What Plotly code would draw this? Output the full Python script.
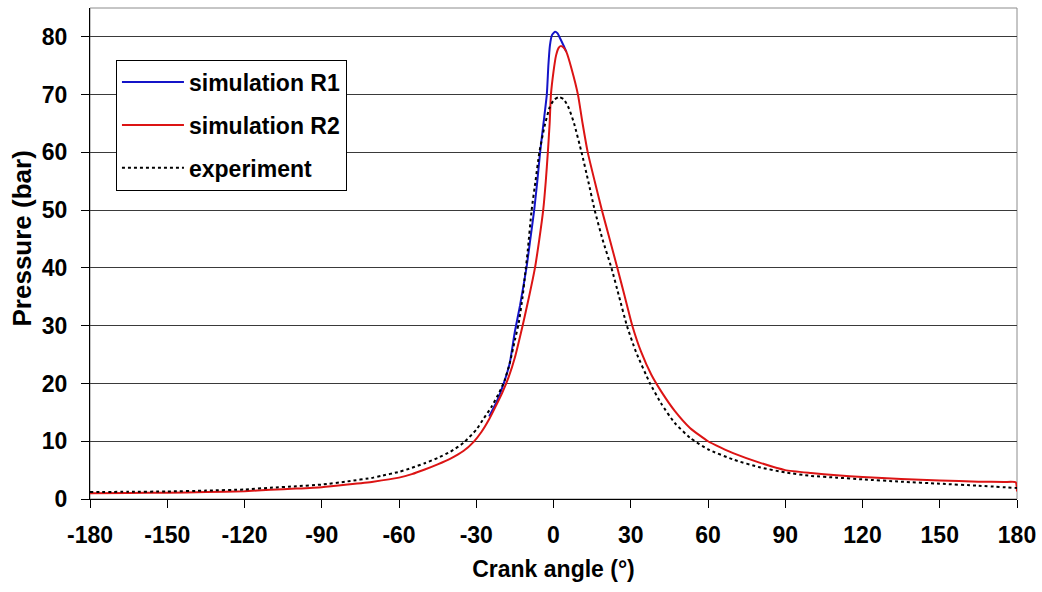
import plotly.graph_objects as go

# ---- data ----
exp_angle = [-180, -165, -150, -135, -120, -110, -100, -90, -80, -70, -67, -60, -55, -50, -45, -40, -35,
             -30, -27, -24, -21, -19, -17, -15, -13.5, -12, -11, -10, -8.5, -7, -5.5, -3.5, -1.5,
             0, 2, 4, 6, 8, 10.9, 13.5, 16, 19, 22.5, 25.5, 28.5, 32, 37.5, 42, 47, 53, 60, 70, 80, 90,
             100, 110, 120, 135, 150, 165, 180]
exp_pressure = [1.2, 1.25, 1.3, 1.45, 1.65, 1.95, 2.2, 2.5, 3.05, 3.7, 4.0, 4.7, 5.4, 6.2, 7.1, 8.2, 9.7,
                12.0, 14.0, 16.0, 18.5, 20.5, 23.5, 27.5, 30.5, 35, 39, 43, 50, 55, 60, 64.5, 67.8,
                69, 69.6, 69.2, 67.6, 65, 60, 55, 50, 45, 40, 35, 30, 25.5, 20, 16.4, 13.2, 10.6, 8.6,
                6.8, 5.5, 4.6, 4.0, 3.7, 3.4, 3.0, 2.65, 2.3, 1.9]

r2_angle = [-180, -165, -150, -135, -120, -110, -100, -90, -80, -70, -60, -55, -50, -45, -40, -35, -31,
            -28, -25, -22.5, -20, -17.5, -15, -12, -9.5, -7.2, -5.5, -4, -3, -2.2, -1.5, -1, 0, 1, 2,
            2.8, 4, 5, 7, 9.5, 11.3, 13.3, 16, 18.8, 21.8, 24.8, 27.7, 30.6, 34, 38, 42, 47, 53, 60,
            65, 70, 80, 90, 100, 110, 120, 135, 150, 165, 175, 179.5, 180]
r2_pressure = [1.0, 1.05, 1.1, 1.2, 1.35, 1.6, 1.8, 2.05, 2.5, 3.0, 3.7, 4.3, 5.1, 6.0, 7.0, 8.3, 9.9,
               11.6, 13.8, 16, 18.3, 21, 24.5, 30, 35, 40, 45, 50, 55, 60, 65, 70, 74, 76.8, 78.1,
               78.4, 78.1, 77.4, 74.5, 70, 65, 60, 55, 50, 45, 40, 35, 30, 25.5, 21.5, 18.5, 15.3,
               12.3, 10.0, 8.9, 7.9, 6.3, 5.0, 4.5, 4.1, 3.8, 3.45, 3.2, 3.0, 2.95, 2.9, 1.3]

r1_angle = [-25, -22, -19.5, -17, -15, -13, -10.5, -9, -7.5, -6.3, -5.2, -3.9, -2.6, -2.0, -1.4, -0.6,
            0.6, 1.6, 2.5, 3.8, 5]
r1_pressure = [14.3, 16.9, 19.8, 23.5, 29, 33.5, 40, 45, 50, 55, 60, 65, 70, 75, 78.5, 80.3,
               80.9, 80.6, 79.8, 78.6, 77.4]

x_ticks = [-180, -150, -120, -90, -60, -30, 0, 30, 60, 90, 120, 150, 180]
y_ticks = [0, 10, 20, 30, 40, 50, 60, 70, 80]

FONT = "Liberation Sans, Arial, sans-serif"

fig = go.Figure()
fig.add_trace(go.Scatter(x=r1_angle, y=r1_pressure, mode="lines", name="simulation R1",
                         line=dict(color="#1414c8", width=2, shape="spline", smoothing=0.5),
                         legendgroup="a"))
fig.add_trace(go.Scatter(x=r2_angle, y=r2_pressure, mode="lines", name="simulation R2",
                         line=dict(color="#dc1414", width=2, shape="spline", smoothing=0.5),
                         legendgroup="b"))
fig.add_trace(go.Scatter(x=exp_angle, y=exp_pressure, mode="lines", name="experiment",
                         line=dict(color="black", width=2, dash="dot", shape="spline", smoothing=0.5),
                         legendgroup="c"))

# Plot area at x 90..1017, y 8..499 of the 1042x592 window (body margin removed below).
fig.update_layout(
    width=1042, height=592,
    margin=dict(l=90, r=25, t=8, b=93, autoexpand=False),
    paper_bgcolor="white", plot_bgcolor="white",
    font=dict(family=FONT, size=22, color="black", weight="bold"),
    showlegend=True,
    legend=dict(x=0.028, y=0.895, xanchor="left", yanchor="top",
                bgcolor="white", bordercolor="black", borderwidth=1,
                font=dict(family=FONT, size=23, color="black", weight="bold"),
                tracegroupgap=10, traceorder="grouped", itemwidth=62),
    xaxis=dict(range=[-180, 180], tickvals=x_ticks, ticktext=[str(v) for v in x_ticks],
               showgrid=False, zeroline=False, showline=True, linecolor="black", linewidth=1,
               ticks="outside", ticklen=8, tickcolor="black", ticklabelstandoff=7, automargin=False,
               tickfont=dict(family=FONT, size=23, color="black", weight="bold"),
               title=dict(text="Crank angle (°)", standoff=14,
                          font=dict(family=FONT, size=23, color="black", weight="bold"))),
    yaxis=dict(range=[0, 85], tickvals=y_ticks, ticktext=[str(v) for v in y_ticks],
               showgrid=True, gridcolor="#3a3a3a", gridwidth=1, zeroline=False,
               showline=True, linecolor="black", linewidth=1, automargin=False,
               ticks="outside", ticklen=8, tickcolor="black", ticklabelstandoff=9,
               tickfont=dict(family=FONT, size=23, color="black", weight="bold")),
    shapes=[dict(type="rect", xref="paper", yref="paper", x0=0, x1=1, y0=0, y1=1,
                 line=dict(color="#8c8c8c", width=1), layer="below")],
    annotations=[dict(text="Pressure (bar)", xref="paper", yref="paper",
                      x=(21.5 - 90) / 927, y=(499 - 239) / 491, textangle=-90,
                      showarrow=False, xanchor="center", yanchor="middle",
                      font=dict(family=FONT, size=26, color="black", weight="bold"))],
)

fig.write_html("out.html", config={"displayModeBar": False},
               post_script="document.body.style.margin='0';document.body.style.padding='0';")
